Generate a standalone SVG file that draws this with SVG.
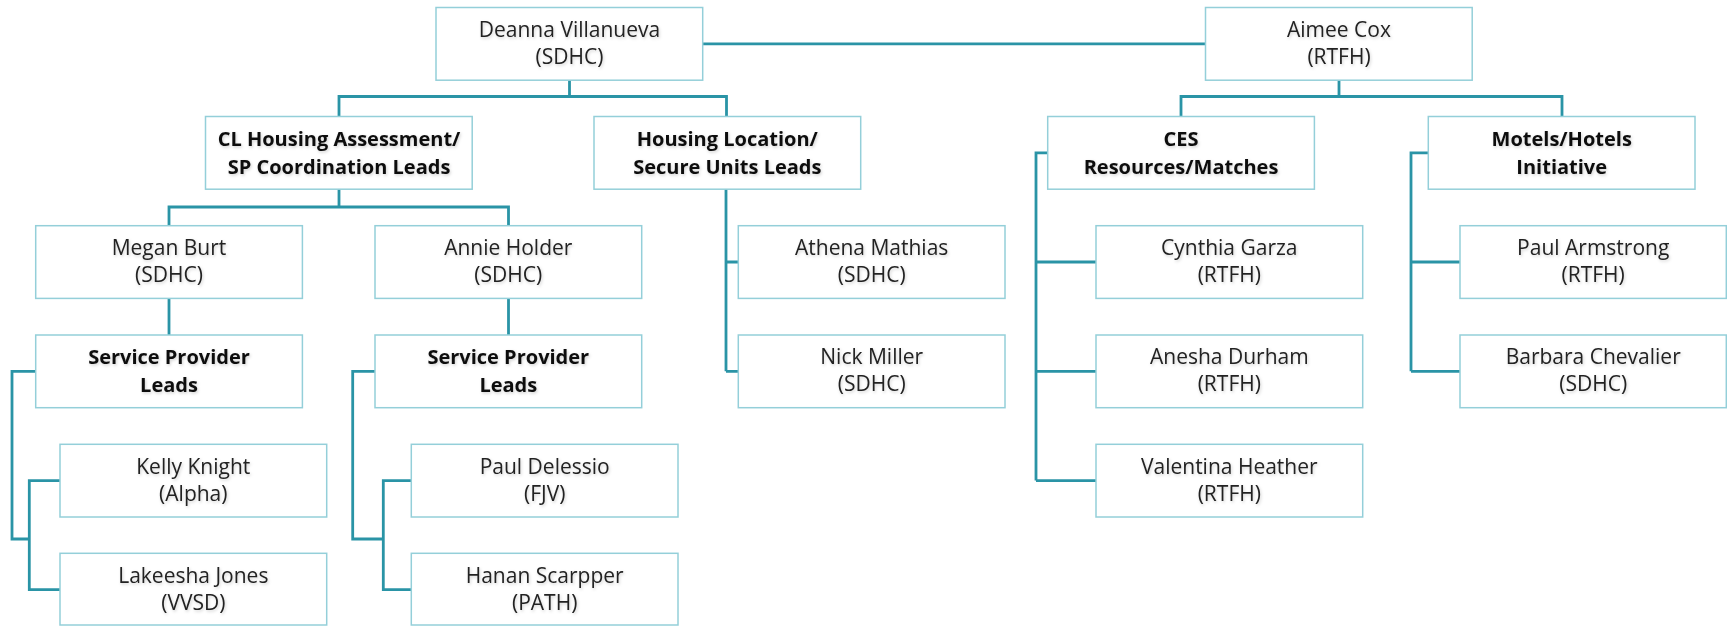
<svg xmlns="http://www.w3.org/2000/svg" width="1727" height="626" viewBox="0 0 1727 626">
<style>
.box{fill:#ffffff;stroke:#94cfd9;stroke-width:1.5}
.conn{fill:none;stroke:#2a94a6;stroke-width:2.8;stroke-linejoin:miter}
.t{font-family:"Open Sans","Liberation Sans",sans-serif;font-size:21px;fill:#222222;text-anchor:middle;filter:url(#sh)}
.b{font-family:"Open Sans","Liberation Sans",sans-serif;font-size:20px;font-weight:bold;fill:#111111;text-anchor:middle;filter:url(#sh)}
</style>
<defs>
<filter id="sh" x="-10%" y="-30%" width="120%" height="160%">
<feDropShadow dx="1" dy="1.5" stdDeviation="1.5" flood-color="#000000" flood-opacity="0.18"/>
</filter>
</defs>
<rect width="1727" height="626" fill="#ffffff"/>
<g id="connectors">
<path class="conn" d="M703,43.8 H1205.5"/>
<path class="conn" d="M339,116.5 V96.5 H726.5 V116.5 M569.5,80 V96.5"/>
<path class="conn" d="M1181,116.5 V96.5 H1562 V116.5 M1339,80 V96.5"/>
<path class="conn" d="M169,225.7 V207 H508.5 V225.7 M339,189 V207"/>
<path class="conn" d="M169,298.4 V335"/>
<path class="conn" d="M508.5,298.4 V335"/>
<path class="conn" d="M35.7,371.3 H12 V539 H29.3 M60,480.6 H29.3 V589.6 H60"/>
<path class="conn" d="M375,371.3 H352.7 V539 H383.3 M411.3,480.6 H383.3 V589.6 H411.3"/>
<path class="conn" d="M726,189 V371.3 M726,262 H738.3 M726,371.3 H738.3"/>
<path class="conn" d="M1047.7,152.8 H1036 V480.6 M1036,262 H1096 M1036,371.3 H1096 M1036,480.6 H1096"/>
<path class="conn" d="M1428.3,152.8 H1411 V371.3 M1411,262 H1460 M1411,371.3 H1460"/>
</g>
<g id="deanna"><rect class="box" x="436" y="7.5" width="266.7" height="72.7"/><text class="t" x="569.5" y="36.8">Deanna Villanueva</text><text class="t" x="569.5" y="63.8">(SDHC)</text></g>
<g id="aimee"><rect class="box" x="1205.5" y="7.5" width="266.7" height="72.7"/><text class="t" x="1339" y="36.8">Aimee Cox</text><text class="t" x="1339" y="63.8">(RTFH)</text></g>
<g id="cl-housing"><rect class="box" x="205.5" y="116.5" width="266.7" height="72.7"/><text class="b" x="339" y="145.8">CL Housing Assessment/</text><text class="b" x="339" y="173.8">SP Coordination Leads</text></g>
<g id="housing-location"><rect class="box" x="594" y="116.5" width="266.7" height="72.7"/><text class="b" x="727.3" y="145.8">Housing Location/</text><text class="b" x="727.3" y="173.8">Secure Units Leads</text></g>
<g id="ces"><rect class="box" x="1047.7" y="116.5" width="266.7" height="72.7"/><text class="b" x="1181" y="145.8">CES</text><text class="b" x="1181" y="173.8">Resources/Matches</text></g>
<g id="motels"><rect class="box" x="1428.3" y="116.5" width="266.7" height="72.7"/><text class="b" x="1561.7" y="145.8">Motels/Hotels</text><text class="b" x="1561.7" y="173.8">Initiative</text></g>
<g id="megan"><rect class="box" x="35.7" y="225.7" width="266.7" height="72.7"/><text class="t" x="169" y="255">Megan Burt</text><text class="t" x="169" y="282">(SDHC)</text></g>
<g id="annie"><rect class="box" x="375" y="225.7" width="266.7" height="72.7"/><text class="t" x="508.3" y="255">Annie Holder</text><text class="t" x="508.3" y="282">(SDHC)</text></g>
<g id="athena"><rect class="box" x="738.3" y="225.7" width="266.7" height="72.7"/><text class="t" x="871.7" y="255">Athena Mathias</text><text class="t" x="871.7" y="282">(SDHC)</text></g>
<g id="cynthia"><rect class="box" x="1096" y="225.7" width="266.7" height="72.7"/><text class="t" x="1229.3" y="255">Cynthia Garza</text><text class="t" x="1229.3" y="282">(RTFH)</text></g>
<g id="paul-armstrong"><rect class="box" x="1460" y="225.7" width="266.3" height="72.7"/><text class="t" x="1593.2" y="255">Paul Armstrong</text><text class="t" x="1593.2" y="282">(RTFH)</text></g>
<g id="sp-leads-1"><rect class="box" x="35.7" y="335" width="266.7" height="72.7"/><text class="b" x="169" y="364.3">Service Provider</text><text class="b" x="169" y="392.3">Leads</text></g>
<g id="sp-leads-2"><rect class="box" x="375" y="335" width="266.7" height="72.7"/><text class="b" x="508.3" y="364.3">Service Provider</text><text class="b" x="508.3" y="392.3">Leads</text></g>
<g id="nick"><rect class="box" x="738.3" y="335" width="266.7" height="72.7"/><text class="t" x="871.7" y="364.3">Nick Miller</text><text class="t" x="871.7" y="391.3">(SDHC)</text></g>
<g id="anesha"><rect class="box" x="1096" y="335" width="266.7" height="72.7"/><text class="t" x="1229.3" y="364.3">Anesha Durham</text><text class="t" x="1229.3" y="391.3">(RTFH)</text></g>
<g id="barbara"><rect class="box" x="1460" y="335" width="266.3" height="72.7"/><text class="t" x="1593.2" y="364.3">Barbara Chevalier</text><text class="t" x="1593.2" y="391.3">(SDHC)</text></g>
<g id="kelly"><rect class="box" x="60" y="444.3" width="266.7" height="72.7"/><text class="t" x="193.3" y="473.6">Kelly Knight</text><text class="t" x="193.3" y="500.6">(Alpha)</text></g>
<g id="paul-delessio"><rect class="box" x="411.3" y="444.3" width="266.7" height="72.7"/><text class="t" x="544.7" y="473.6">Paul Delessio</text><text class="t" x="544.7" y="500.6">(FJV)</text></g>
<g id="valentina"><rect class="box" x="1096" y="444.3" width="266.7" height="72.7"/><text class="t" x="1229.3" y="473.6">Valentina Heather</text><text class="t" x="1229.3" y="500.6">(RTFH)</text></g>
<g id="lakeesha"><rect class="box" x="60" y="553.3" width="266.7" height="71.7"/><text class="t" x="193.3" y="582.6">Lakeesha Jones</text><text class="t" x="193.3" y="609.6">(VVSD)</text></g>
<g id="hanan"><rect class="box" x="411.3" y="553.3" width="266.7" height="71.7"/><text class="t" x="544.7" y="582.6">Hanan Scarpper</text><text class="t" x="544.7" y="609.6">(PATH)</text></g>
</svg>
